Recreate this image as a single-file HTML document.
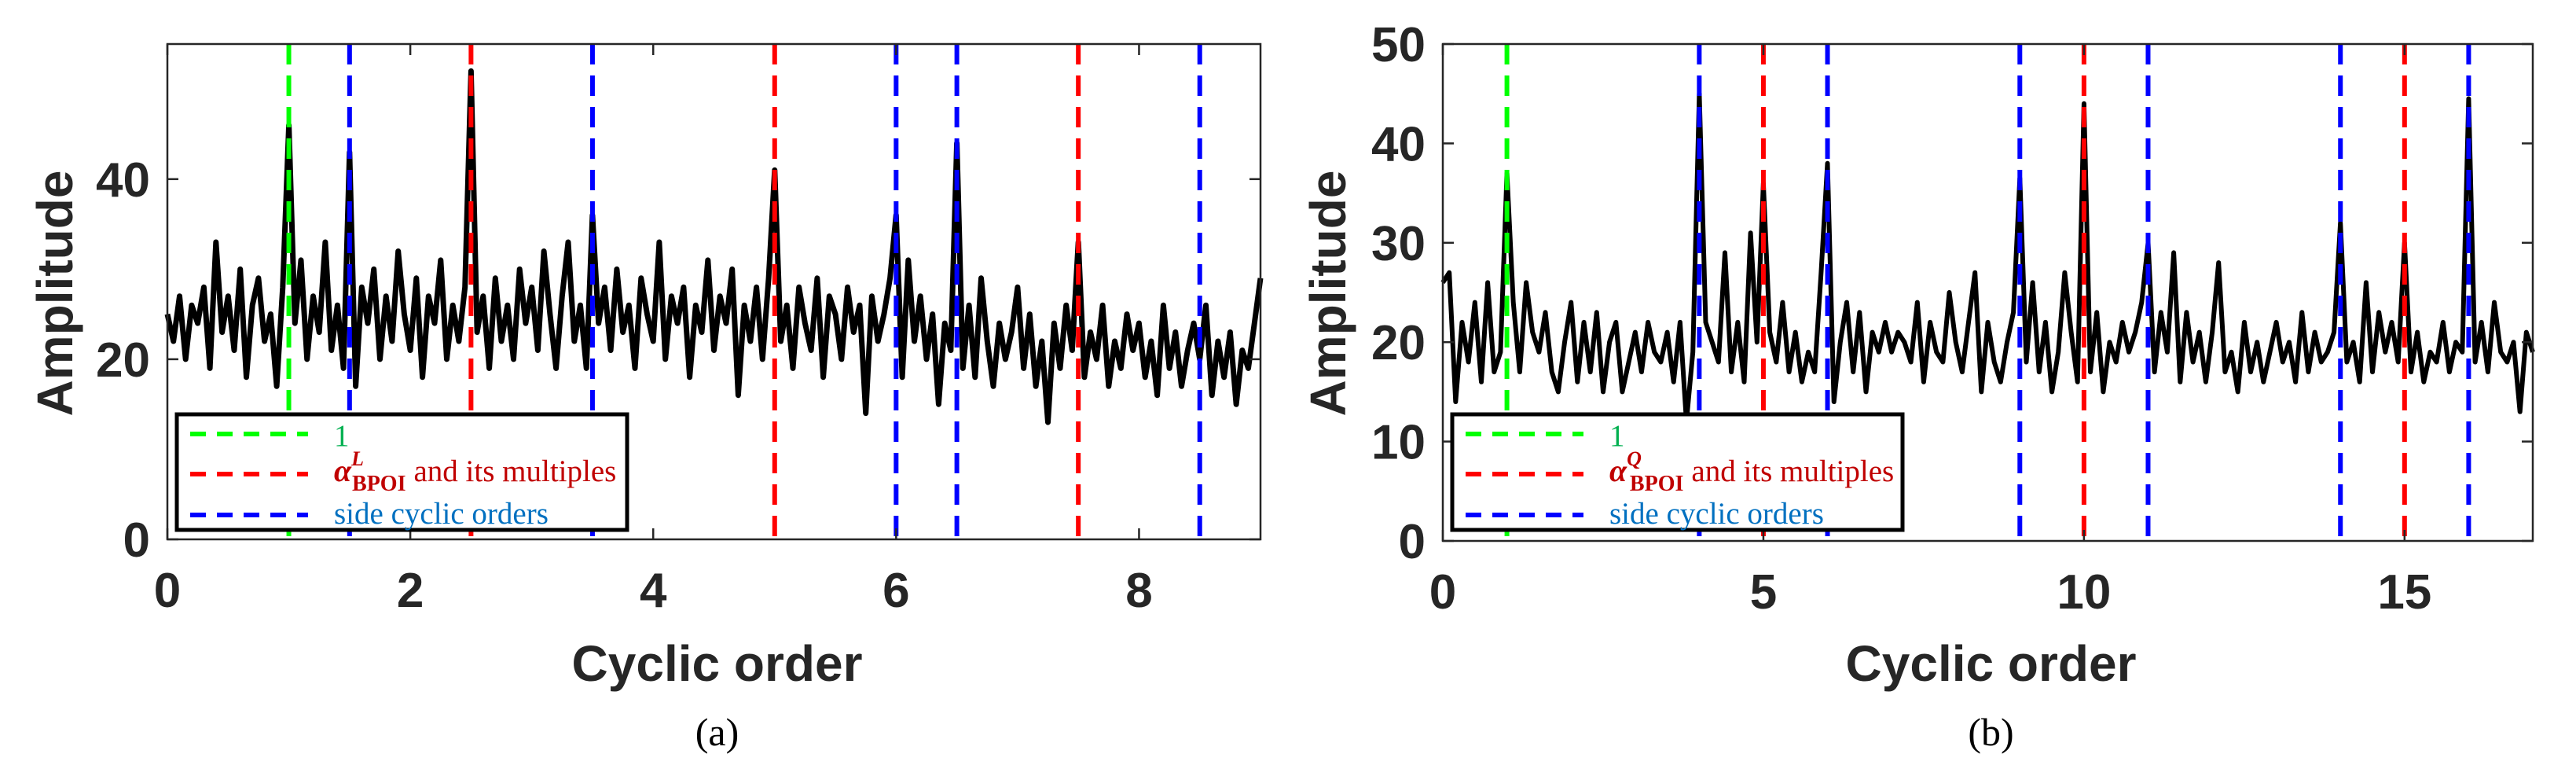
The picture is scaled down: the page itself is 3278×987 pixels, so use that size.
<!DOCTYPE html>
<html><head><meta charset="utf-8">
<style>
html,body{margin:0;padding:0;background:#fff;}
svg{display:block;}
.tick{font-family:"Liberation Sans",Arial,sans-serif;font-weight:bold;font-size:62px;fill:#262626;}
.title{font-family:"Liberation Sans",Arial,sans-serif;font-weight:bold;font-size:64px;fill:#262626;}
.leg{font-family:"Liberation Serif","Times New Roman",serif;font-size:39px;}
.cap{font-family:"Liberation Serif","Times New Roman",serif;font-size:50px;fill:#000;}
</style></head>
<body>
<svg id="fig" width="3278" height="987" viewBox="0 0 3278 987" xmlns="http://www.w3.org/2000/svg"></svg>
<script>
// ---- Panel (a) data ----
const aStep = 0.05;
const aValues = [
25,22,27,20,26,24,28,19,33,23,
27,21,30,18,26,29,22,25,17,28,
46,24,31,20,27,23,33,21,26,19,
43,17,28,24,30,20,27,22,32,25,
21,29,18,27,24,31,20,26,22,28,
52,23,27,19,29,22,26,20,30,24,
28,21,32,25,19,27,33,22,26,19,
36,24,28,21,30,23,26,19,29,25,
22,33,20,27,24,28,18,26,23,31,
21,27,24,30,16,26,22,28,20,29,
41,22,26,19,28,24,21,29,18,27,
25,20,28,23,26,14,27,22,25,29,
36,18,31,22,27,20,25,15,24,21,
44,19,26,18,29,22,17,24,20,23,
28,19,25,17,22,13,24,19,26,21,
33,18,23,20,26,17,22,19,25,21,
24,18,22,16,26,19,23,17,21,24,
20,26,16,22,18,23,15,21,19,24,
29];
const aGreen = [1];
const aRed = [2.5, 5, 7.5];
const aBlue = [1.5, 3.5, 6, 6.5, 8.5];
const aXTicks = [0, 2, 4, 6, 8];
const aYTicks = [0, 20, 40];

// ---- Panel (b) data ----
const bStep = 0.1;
const bValues = [
26,27,14,22,18,24,16,26,17,19,
37,24,17,26,21,19,23,17,15,20,
24,16,22,17,23,15,20,22,15,18,
21,17,22,19,18,21,16,22,12,19,
45,22,20,18,29,17,22,16,31,20,
36,21,18,24,17,21,16,19,17,27,
38,14,20,24,17,23,15,21,19,22,
19,21,20,18,24,16,22,19,18,25,
20,17,22,27,15,22,18,16,20,23,
36.5,18,26,17,22,15,19,27,21,16,
44,17,23,15,20,18,22,19,21,24,
30,17,23,19,29,16,23,18,21,16,
21,28,17,19,15,22,17,20,16,19,
22,18,20,16,23,17,21,18,19,21,
32,18,20,16,26,17,23,19,22,18,
30,17,21,16,19,18,22,17,20,19,
44.5,18,22,17,24,19,18,20,13,21,
19];
const bGreen = [1];
const bRed = [5, 10, 15];
const bBlue = [4, 6, 9, 11, 14, 16];
const bXTicks = [0, 5, 10, 15];
const bYTicks = [0, 10, 20, 30, 40, 50];

const NS = "http://www.w3.org/2000/svg";
const svg = document.getElementById('fig');
function mk(tag, attrs, parent, text){
  const e = document.createElementNS(NS, tag);
  for (const k in attrs) e.setAttribute(k, attrs[k]);
  if (text !== undefined) e.textContent = text;
  (parent || svg).appendChild(e);
  return e;
}

function panel(cfg){
  const g = mk('g', {});
  
  
  const L = cfg.left, R = cfg.right, T = cfg.top, B = cfg.bottom;
  const sx = v => L + (v - 0) / cfg.xmax * (R - L);
  const sy = v => B - v / cfg.ymax * (B - T);

  let d = '';
  cfg.values.forEach((v, i) => {
    d += (i ? 'L' : 'M') + sx(i * cfg.step).toFixed(1) + ' ' + sy(v).toFixed(1);
  });
  const line = mk('path', {d: d, fill: 'none', stroke: '#000', 'stroke-width': cfg.lw, 'stroke-linejoin': 'round'}, g);
  
  

  const groups = [[cfg.green, '#00ff00', 'green-marker'], [cfg.red, '#ff0000', 'red-marker'], [cfg.blue, '#0000ff', 'blue-marker']];
  groups.forEach(([arr, col, nm]) => {
    arr.forEach(x => {
      const l = mk('line', {x1: sx(x), x2: sx(x), y1: T, y2: B, stroke: col, 'stroke-width': 6, 'stroke-dasharray': '26 14'}, g);
      
      
    });
  });

  const box = mk('rect', {x: L, y: T, width: R - L, height: B - T, fill: 'none', stroke: '#262626', 'stroke-width': 2.5}, g);
  
  

  cfg.xticks.forEach(t => {
    const x = sx(t);
    mk('line', {x1: x, x2: x, y1: B, y2: B - 14, stroke: '#262626', 'stroke-width': 2.5}, g);
    mk('line', {x1: x, x2: x, y1: T, y2: T + 14, stroke: '#262626', 'stroke-width': 2.5}, g);
    const tx = mk('text', {x: x, y: B + 86, 'text-anchor': 'middle', class: 'tick'}, g, String(t));
    
    
  });
  cfg.yticks.forEach(t => {
    const y = sy(t);
    mk('line', {x1: L, x2: L + 14, y1: y, y2: y, stroke: '#262626', 'stroke-width': 2.5}, g);
    mk('line', {x1: R, x2: R - 14, y1: y, y2: y, stroke: '#262626', 'stroke-width': 2.5}, g);
    const ty = mk('text', {x: L - 22, y: y + 22, 'text-anchor': 'end', class: 'tick'}, g, String(t));
    
    
  });

  const xt = mk('text', {x: (L + R) / 2 + 4, y: 866, 'text-anchor': 'middle', class: 'title'}, g, 'Cyclic order');
  
  
  const yt = mk('text', {x: 0, y: 0, 'text-anchor': 'middle', class: 'title', transform: 'translate(' + cfg.ytx + ',373) rotate(-90)'}, g, 'Amplitude');
  
  
  const cp = mk('text', {x: (L + R) / 2 + 4, y: 948, 'text-anchor': 'middle', class: 'cap'}, g, cfg.caption);
  
  

  const lg = mk('g', {}, g);
  
  
  const lx = cfg.legX;
  mk('rect', {x: lx, y: 527, width: 573, height: 147, fill: '#fff', stroke: '#000', 'stroke-width': 5}, lg);
  const ys = [552, 603, 655];
  const cols = ['#00ff00', '#ff0000', '#0000ff'];
  ys.forEach((y, i) => {
    const s = mk('line', {x1: lx + 17, x2: lx + 167, y1: y, y2: y, stroke: cols[i], 'stroke-width': 6, 'stroke-dasharray': '20 14'}, lg);
    
    
  });
  const t1 = mk('text', {x: lx + 200, y: 567, class: 'leg', fill: '#00b050', 'font-size': '44'}, lg, '1');
  
  
  const t2 = mk('text', {x: lx + 200, y: 612, class: 'leg', fill: '#c00000'}, lg);
  
  
  mk('tspan', {'font-style': 'italic', 'font-weight': 'bold', 'font-size': '40'}, t2, 'α');
  mk('tspan', {'font-style': 'italic', 'font-weight': 'bold', 'font-size': '26', dy: '-20'}, t2, cfg.sup);
  mk('tspan', {'font-weight': 'bold', 'font-size': '28', dy: '32', dx: '-15'}, t2, 'BPOI');
  mk('tspan', {dy: '-12', dx: '10'}, t2, 'and its multiples');
  const t3 = mk('text', {x: lx + 200, y: 666, class: 'leg', fill: '#0070c0'}, lg, 'side cyclic orders');
  
  
}

panel({name: 'panel-a', left: 213, right: 1604, top: 56, bottom: 686, xmax: 9, ymax: 55, lw: 7,
  step: aStep, values: aValues, green: aGreen, red: aRed, blue: aBlue,
  xticks: aXTicks, yticks: aYTicks, ytx: 92, caption: '(a)', sup: 'L', legX: 225});
panel({name: 'panel-b', left: 1836, right: 3223, top: 56, bottom: 688, xmax: 17, ymax: 50, lw: 6,
  step: bStep, values: bValues, green: bGreen, red: bRed, blue: bBlue,
  xticks: bXTicks, yticks: bYTicks, ytx: 1712, caption: '(b)', sup: 'Q', legX: 1848});
</script>
</body></html>
